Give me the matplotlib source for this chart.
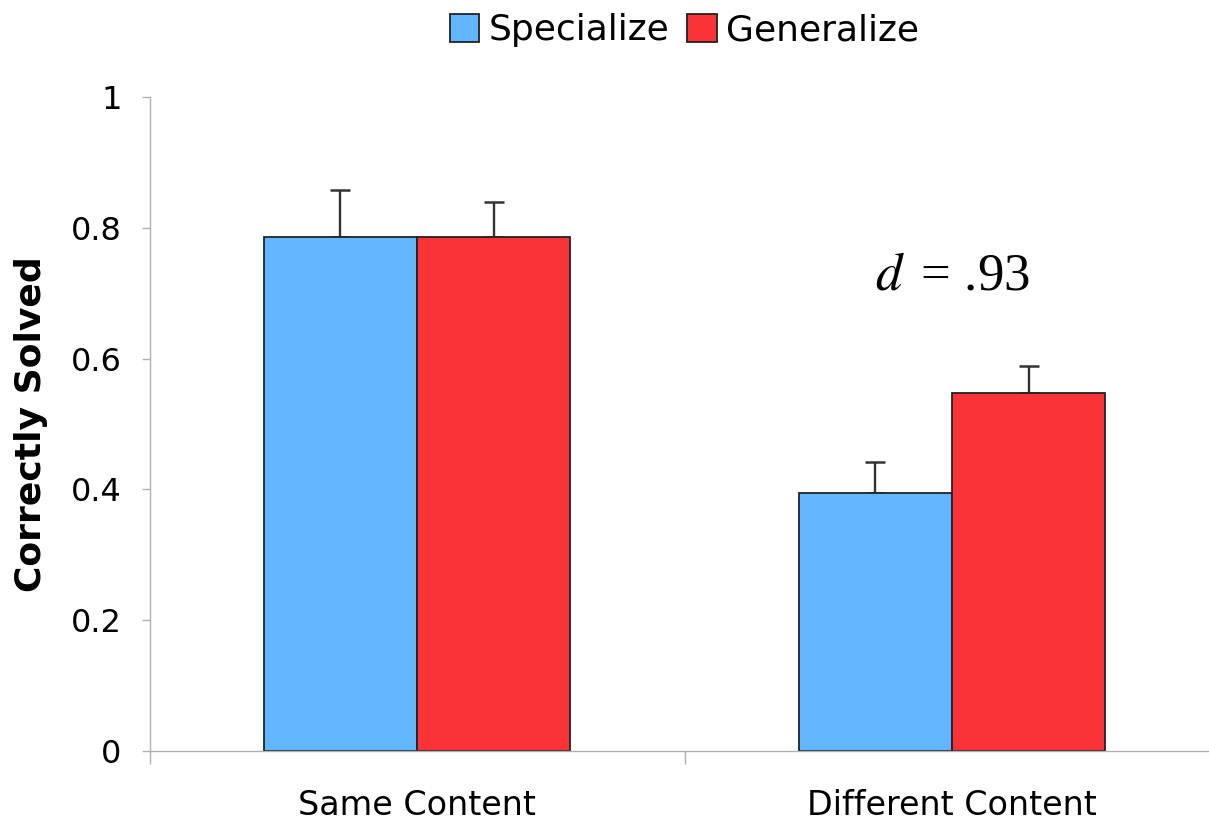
import matplotlib.pyplot as plt
import numpy as np

# data
groups = ['Same Content', 'Different Content']
specialize = [0.786, 0.394]
generalize = [0.786, 0.547]
spec_err = [0.072, 0.048]
gen_err = [0.053, 0.042]

blue = '#62b6ff'
red = '#f93338'
gray = '#b0b0b0'

plt.rcParams['mathtext.fontset'] = 'stix'

fig = plt.figure(figsize=(12.09, 8.22), dpi=100)
# axes run off the right edge like in the original
ax = fig.add_axes([149.5 / 1209, 71 / 822, 1070 / 1209, 654 / 822])

x = np.arange(len(groups))
w = 0.286
ax.bar(x - w / 2, specialize, width=w, color=blue, edgecolor='#222222', linewidth=1.3,
       label='Specialize', zorder=2)
ax.bar(x + w / 2, generalize, width=w, color=red, edgecolor='#222222', linewidth=1.3,
       label='Generalize', zorder=2)

# upward-only error bars
ax.errorbar(x - w / 2, specialize, yerr=[np.zeros(2), spec_err], fmt='none',
            ecolor='#333333', elinewidth=1.7, capsize=7, capthick=1.8, zorder=1)
ax.errorbar(x + w / 2, generalize, yerr=[np.zeros(2), gen_err], fmt='none',
            ecolor='#333333', elinewidth=1.7, capsize=7, capthick=1.8, zorder=1)

ax.set_xlim(-0.5, 1.5)
ax.set_ylim(0, 1)
ax.set_yticks([0, 0.2, 0.4, 0.6, 0.8, 1.0])
ax.set_yticklabels(['0', '0.2', '0.4', '0.6', '0.8', '1'])
ax.set_xticks(x)
ax.set_xticklabels(groups)
ax.set_xticks([-0.5, 0.5, 1.5], minor=True)

ax.tick_params(axis='y', length=6, width=1, color=gray, pad=14, labelsize=23)
ax.tick_params(axis='x', which='major', length=0, pad=27, labelsize=24)
ax.tick_params(axis='x', which='minor', length=9, width=1, color=gray)

for s in ['top', 'right']:
    ax.spines[s].set_visible(False)
for s in ['left', 'bottom']:
    ax.spines[s].set_color(gray)
    ax.spines[s].set_linewidth(1)

ax.set_ylabel('Correctly Solved', fontsize=26, fontweight='bold', labelpad=16)

ax.text(1.0, 0.726, r'$d\,$ = .93', fontsize=38, family='Liberation Serif',
        ha='center', va='center')

ax.legend(loc='upper center', bbox_to_anchor=(0.5, 1.15), ncol=2, frameon=False,
          fontsize=26, handlelength=0.82, handleheight=0.82, handletextpad=0.26,
          columnspacing=0.5, borderaxespad=0)

fig.savefig('out.png', dpi=100)
